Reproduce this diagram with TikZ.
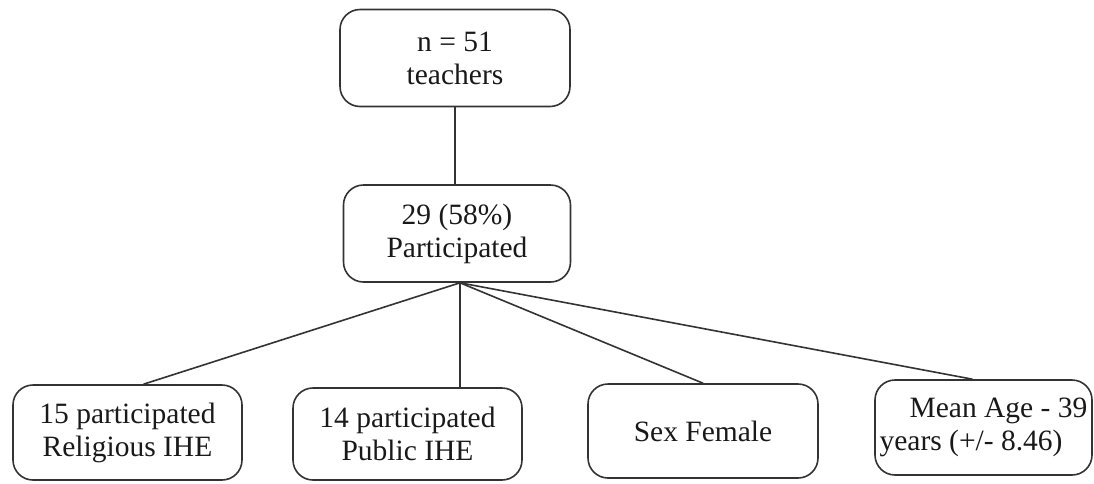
\documentclass[tikz,border=0pt]{standalone}
\usepackage{fontspec}
\setmainfont{Liberation Serif}
\newfontfamily\boxfont{Liberation Serif}
\begin{document}
\begin{tikzpicture}[x=1pt,y=-1pt,
  box/.style={draw=black!80, line width=1.6pt, rounded corners=20pt, align=center,
    inner sep=2pt, font=\boxfont\fontsize{29.5}{33}\selectfont, text=black!90},
  link/.style={draw=black!80, line width=1.6pt}]
\useasboundingbox (0,0) rectangle (1094,483);
\node[box, minimum width=230pt, minimum height=97pt] (top) at (455,58) {n = 51\\teachers};
\node[box, minimum width=227pt, minimum height=97pt] (mid) at (457,233.5) {29 (58\%)\\Participated};
\node[box, minimum width=229pt, minimum height=95pt] (b1) at (127.5,432.5) {15 participated\\Religious IHE};
\node[box, minimum width=229pt, minimum height=92pt] (b2) at (407.5,434) {14 participated\\Public IHE};
\node[box, minimum width=230pt, minimum height=94pt] (b3) at (703,431) {Sex Female};
\node[box, minimum width=217pt, minimum height=95pt, align=left] (b4) at (983.5,427.5)
  {\hspace*{30pt}Mean Age - 39\\years (+/- 8.46)};
\draw[link] (top.south) -- (top.south |- mid.north);
\draw[link] ([xshift=3pt]mid.south) -- ([xshift=3pt]mid.south |- b2.north);
\draw[link] ([xshift=3pt]mid.south) -- ([xshift=16pt]b1.north);
\draw[link] ([xshift=3pt]mid.south) -- (b3.north);
\draw[link] ([xshift=3pt]mid.south) -- ([xshift=-11pt]b4.north);
\end{tikzpicture}
\end{document}
